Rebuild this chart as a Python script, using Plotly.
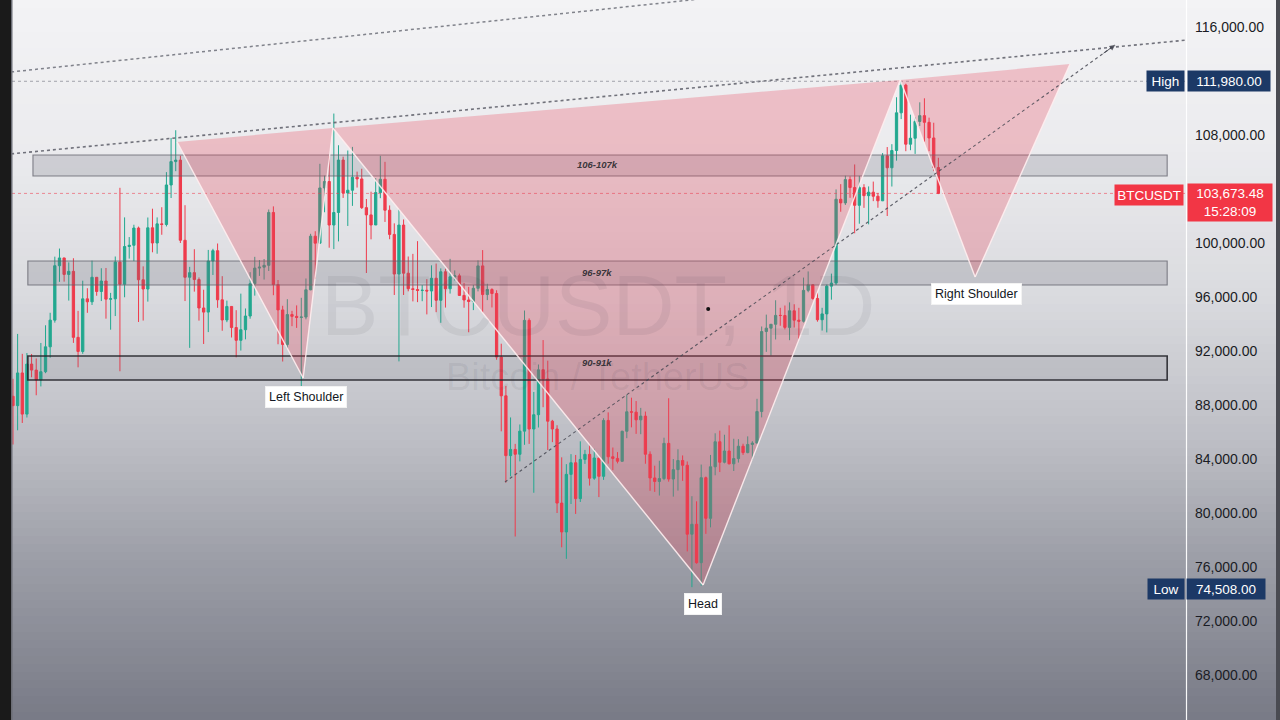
import plotly.graph_objects as go
import pandas as pd

# ---------------- DATA (BTCUSDT daily) ----------------
start_date = "2024-11-12"

opens = [
    # Nov 12-30
    88648, 87952, 90375, 87325, 91032, 90587, 89855, 90465, 92310, 94287,
    98317, 98892, 97672, 97900, 93010, 91965, 95863, 95643, 97460,
    # Dec
    96407, 97185, 95840, 95865, 98587, 96945, 99740, 99831, 101109, 97276,
    96593, 101125, 100000, 101418, 101372, 104298, 106030, 106140, 100204, 97461,
    97805, 97292, 95187, 94881, 98663, 99430, 95792, 94299, 95300, 93738, 92792,
    # Jan
    93576, 94592, 96984, 98141, 98209, 98345, 102264, 96922, 95043, 92484,
    94701, 94566, 94488, 94516, 96534, 100505, 99987, 104078, 104556, 101331,
    102260, 106144, 103706, 103910, 104870, 104746, 102620, 102082, 101336, 103734, 104722,
    # Feb
    102429, 100635, 97700, 101328, 97763, 96613, 96555, 96482, 96500, 96444,
    97391, 95758, 97868, 96608, 97500, 97569, 96118, 95780, 95671, 96644,
    98305, 96181, 96551, 96258, 91552, 88680, 84250, 84708,
    # Mar
    84350, 86064, 94270, 86221, 87281, 90606, 89931, 86801, 86222, 80734,
    78596, 82862, 83723, 81067, 83969, 84344, 82580, 84075, 82718, 86855,
    84167, 84044, 83832, 86054, 87498, 87471, 86900, 87177, 84353, 82597, 82335,
    # Apr
    82548, 85159, 82516, 83213, 83890, 83537, 78430, 79164, 76322, 82616,
    79608, 83423, 85276, 83760, 84592, 83643, 84030, 84947, 84474, 85077,
    85179, 87516, 93442, 93691, 93980, 94638, 94628, 93750, 94978, 94284,
    # May 1-30
    94207, 96492, 96910, 95891, 94315, 94748, 96802, 97032, 103241, 102971,
    104697, 104107, 102791, 104103, 103507, 103763, 103464, 103126, 106455, 105573,
    106850, 109643, 111696, 107318, 107761, 109004, 109435, 108938, 107781, 105589,
]

highs = [
    # Nov 12-30
    89940, 93265, 91790, 91850, 91779, 91449, 92594, 93905, 94831, 98988,
    99588, 98908, 98564, 98871, 94973, 97208, 96650, 98693, 97463,
    # Dec
    98130, 98150, 96305, 99000, 104088, 101898, 100439, 101351, 101215, 98270,
    101888, 102540, 101895, 102650, 105250, 107780, 108353, 106470, 102800, 98233,
    99540, 97448, 96538, 99487, 99569, 99963, 97544, 95733, 95300, 95024, 96250,
    # Jan
    95151, 97839, 98976, 98734, 98813, 102482, 102712, 97259, 95349, 95837,
    94977, 95378, 95940, 97371, 100681, 100873, 105865, 104988, 106422, 109588,
    107240, 106394, 106850, 107120, 105286, 105500, 103260, 103800, 104800, 106457, 106012,
    # Feb
    102783, 101456, 102500, 101745, 99000, 99195, 100137, 96880, 97323, 98345,
    98478, 98119, 98094, 98826, 97970, 97732, 97046, 96753, 96899, 98711,
    99475, 96980, 96650, 96500, 92540, 89414, 87078, 85120,
    # Mar
    86558, 95000, 94416, 88967, 91000, 92810, 91283, 86897, 86500, 84123,
    83617, 84359, 84301, 85309, 84673, 85117, 84756, 84075, 87022, 87454,
    84850, 84513, 86094, 88765, 88542, 88292, 87786, 87515, 84567, 83505, 83870,
    # Apr
    85579, 88500, 83998, 84720, 84266, 83817, 81243, 80867, 83588, 82700,
    84300, 85905, 86100, 85799, 86496, 85500, 85470, 85132, 85677, 85320,
    88460, 93817, 94696, 93888, 95758, 95199, 95369, 95600, 95461, 95199,
    # May 1-30
    97438, 97895, 96943, 96318, 95200, 96920, 97732, 103970, 104361, 104984,
    104938, 105819, 104976, 104356, 104192, 104550, 103708, 106660, 107108, 107320,
    110797, 111980, 111800, 109506, 109300, 110422, 110718, 109284, 108910, 106313,
]

lows = [
    # Nov 12-30
    85072, 86127, 86668, 87073, 90056, 88722, 89376, 90357, 91500, 94100,
    97122, 97136, 95734, 92600, 90791, 91792, 94827, 95407, 96092,
    # Dec
    95700, 94395, 93579, 94588, 90500, 95981, 98844, 98657, 94150, 94256,
    95659, 99312, 99205, 100610, 101227, 103333, 105321, 100000, 95700, 92232,
    96398, 94250, 92520, 93400, 97632, 95200, 93500, 94135, 93000, 91530, 92033,
    # Jan
    92863, 94392, 96100, 97562, 97291, 97925, 96132, 92500, 91220, 92207,
    93840, 93711, 89256, 94346, 96500, 97352, 99950, 102277, 99651, 99550,
    100119, 103339, 101262, 102750, 104106, 102520, 97777, 100272, 101328, 103320, 101560,
    # Feb
    100279, 96150, 91231, 96150, 96421, 95676, 95620, 95688, 94713, 95256,
    94876, 94088, 95217, 96253, 97223, 96101, 95205, 93388, 95029, 96415,
    94871, 95770, 95227, 91350, 86050, 82256, 82717, 78258,
    # Mar
    83824, 85050, 85117, 81500, 86334, 87836, 84667, 85248, 80000, 77459,
    76606, 80667, 79931, 80818, 83639, 82032, 82457, 81180, 82457, 83655,
    83175, 83674, 83794, 85541, 86346, 85862, 85837, 83647, 81644, 81565, 81293,
    # Apr
    82432, 82320, 81211, 81659, 82379, 77154, 74508, 76240, 74620, 78455,
    78936, 82792, 83034, 83678, 83600, 83111, 83736, 84303, 84424, 83950,
    85144, 87084, 91936, 91660, 92855, 93870, 93602, 92800, 93742, 92910,
    # May 1-30
    94111, 96350, 95800, 94171, 93514, 93377, 95800, 96888, 102316, 102818,
    103347, 100719, 101429, 102602, 101383, 103100, 102612, 103105, 102000, 104184,
    106100, 109177, 106800, 106875, 106600, 108670, 107497, 106800, 105322, 103621,
]

closes = [
    # Nov 12-30
    87952, 90375, 87325, 91032, 90586, 89855, 90464, 92310, 94286, 98317,
    98892, 97672, 97900, 93010, 91965, 95863, 95643, 97460, 96407,
    # Dec
    97185, 95840, 95865, 98587, 96945, 99740, 99831, 101109, 97276, 96593,
    101125, 100000, 101418, 101372, 104298, 106029, 106140, 100204, 97461, 97805,
    97292, 95187, 94881, 98663, 99430, 95792, 94299, 95300, 93738, 92792, 93576,
    # Jan
    94591, 96984, 98141, 98209, 98345, 102264, 96922, 95043, 92484, 94701,
    94566, 94488, 94516, 96534, 100505, 99987, 104078, 104556, 101331, 102260,
    106144, 103706, 103910, 104870, 104746, 102620, 102082, 101336, 103734, 104722, 102429,
    # Feb
    100635, 97700, 101328, 97763, 96613, 96555, 96482, 96500, 96444, 97391,
    95758, 97868, 96608, 97500, 97569, 96118, 95780, 95671, 96644, 98305,
    96181, 96551, 96258, 91552, 88680, 84250, 84708, 84350,
    # Mar
    86064, 94270, 86220, 87281, 90606, 89931, 86801, 86222, 80734, 78595,
    82862, 83723, 81067, 83969, 84344, 82580, 84075, 82718, 86855, 84167,
    84044, 83832, 86054, 87498, 87471, 86900, 87177, 84353, 82598, 82334, 82548,
    # Apr
    85159, 82516, 83213, 83889, 83537, 78430, 79164, 76322, 82616, 79608,
    83423, 85276, 83760, 84592, 83643, 84030, 84947, 84474, 85077, 85179,
    87516, 93442, 93691, 93980, 94638, 94628, 93750, 94978, 94284, 94207,
    # May 1-30
    96492, 96910, 95891, 94315, 94748, 96802, 97032, 103241, 102971, 104696,
    104107, 102791, 104103, 103507, 103763, 103464, 103126, 106455, 105573, 106850,
    109643, 111696, 107318, 107761, 109004, 109435, 108938, 107781, 105589, 103673,
]

y_tick_values = [116000, 108000, 100000, 96000, 92000, 88000, 84000, 80000, 76000, 72000, 68000]
high_value = 111980.00
low_value = 74508.00
last_price = 103673.48
countdown = "15:28:09"
symbol = "BTCUSDT"
watermark_title = "BTCUSDT, 1D"
watermark_sub = "Bitcoin / TetherUS"

zone_names = ["106-107k", "96-97k", "90-91k"]
zone_bottoms = [104963, 96889, 89852]
zone_tops = [106519, 98667, 91630]

pattern_names = ["Left Shoulder", "Head", "Right Shoulder"]

# ---------------- helpers ----------------
dates = pd.date_range(start_date, periods=len(closes), freq="D")
t0 = pd.Timestamp(start_date)


def dx(i):
    return (t0 + pd.Timedelta(days=i)).strftime("%Y-%m-%d %H:%M:%S")


def dp(i):
    return dx(i).replace(" ", "_")


PLOT_L, PLOT_R, W, H = 12, 1186, 1280, 720
PW = PLOT_R - PLOT_L


def pxx(px):
    return (px - PLOT_L) / PW


def pxy(py):
    return 1 - py / H


fig = go.Figure()

fig.add_trace(go.Candlestick(
    x=dates, open=opens, high=highs, low=lows, close=closes,
    increasing=dict(line=dict(color="#22a88f", width=1), fillcolor="#22a88f"),
    decreasing=dict(line=dict(color="#ef3b4c", width=1), fillcolor="#ef3b4c"),
    whiskerwidth=0, showlegend=False, hoverinfo="skip",
))

shapes = []

# background gradient bands
stops = [(0, (243, 243, 245)), (150, (235, 235, 238)), (300, (217, 218, 222)),
         (450, (187, 188, 195)), (560, (156, 158, 167)), (720, (120, 122, 134))]


def grad(y):
    for (y0, c0), (y1, c1) in zip(stops[:-1], stops[1:]):
        if y0 <= y <= y1:
            t = (y - y0) / (y1 - y0)
            return tuple(round(a + (b - a) * t) for a, b in zip(c0, c1))
    return stops[-1][1]


band = 8
for yb in range(0, H, band):
    c = grad(yb + band / 2)
    shapes.append(dict(type="rect", xref="paper", yref="paper",
                       x0=pxx(0), x1=pxx(W), y0=pxy(yb + band + 0.5), y1=pxy(yb),
                       fillcolor=f"rgb({c[0]},{c[1]},{c[2]})", line=dict(width=0),
                       layer="below"))

# zones
for i, (b, t) in enumerate(zip(zone_bottoms, zone_tops)):
    x0 = 4.3 if i == 0 else 3.2
    dark = (i == 2)
    shapes.append(dict(type="rect", xref="x", yref="y", x0=dx(x0), x1=dx(248.2),
                       y0=b, y1=t,
                       fillcolor="rgba(105,105,118,0.14)" if dark else "rgba(105,105,118,0.22)",
                       line=dict(color="rgba(35,35,42,0.9)" if dark else "rgba(95,95,105,0.75)",
                                 width=1.6 if dark else 1.1),
                       layer="above"))

# trend lines
shapes.append(dict(type="line", xref="x", yref="y", x0=dx(-0.4), y0=106600, x1=dx(252.6), y1=115040,
                   line=dict(color="rgba(90,92,102,0.85)", width=1.6, dash="dot"), layer="above"))
shapes.append(dict(type="line", xref="x", yref="y", x0=dx(-0.4), y0=112670, x1=dx(252.6), y1=121900,
                   line=dict(color="rgba(100,102,112,0.8)", width=1.5, dash="dot"), layer="above"))

# high line and last price line
shapes.append(dict(type="line", xref="paper", yref="y", x0=0, x1=1, y0=high_value, y1=high_value,
                   line=dict(color="rgba(140,142,152,0.8)", width=1, dash="dot"), layer="above"))
shapes.append(dict(type="line", xref="paper", yref="y", x0=0, x1=1, y0=last_price, y1=last_price,
                   line=dict(color="rgba(239,59,76,0.55)", width=1, dash="dot"), layer="above"))

# pattern triangles
tri_pts = [
    [(35.3, 107480), (68.8, 108520), (62.4, 90000)],
    [(68.8, 108520), (190.8, 112070), (148.4, 74670)],
    [(190.8, 112070), (227.3, 113260), (206.9, 97480)],
]
for pts in tri_pts:
    path = "M {} {} L {} {} L {} {} Z".format(dp(pts[0][0]), pts[0][1], dp(pts[1][0]), pts[1][1],
                                             dp(pts[2][0]), pts[2][1])
    shapes.append(dict(type="path", xref="x", yref="y", path=path,
                       fillcolor="rgba(232,64,84,0.27)", line=dict(width=0), layer="above"))
    for a, b in [(pts[0], pts[2]), (pts[2], pts[1])]:
        shapes.append(dict(type="line", xref="x", yref="y", x0=dx(a[0]), y0=a[1], x1=dx(b[0]), y1=b[1],
                           line=dict(color="rgba(255,238,240,0.9)", width=1.4), layer="above"))

# rising dotted projection line
shapes.append(dict(type="line", xref="x", yref="y", x0=dx(105.8), y0=82296, x1=dx(237), y1=114667,
                   line=dict(color="rgba(70,72,82,0.85)", width=1.1, dash="dot"), layer="above"))

# cursor dot
shapes.append(dict(type="circle", xref="x", yref="y", xsizemode="pixel", ysizemode="pixel",
                   xanchor=dx(149.5), yanchor=95111, x0=-2, x1=2, y0=-2, y1=2,
                   fillcolor="#111", line=dict(width=0), layer="above"))

# frame pieces
shapes.append(dict(type="rect", xref="paper", yref="paper", x0=pxx(0), x1=pxx(11), y0=0, y1=1,
                   fillcolor="#1a1a1a", line=dict(width=0), layer="above"))
shapes.append(dict(type="rect", xref="paper", yref="paper", x0=pxx(11), x1=pxx(12.5), y0=0, y1=1,
                   fillcolor="#6b6d75", line=dict(width=0), layer="above"))
shapes.append(dict(type="line", xref="paper", yref="paper", x0=pxx(1186.5), x1=pxx(1186.5), y0=0, y1=1,
                   line=dict(color="rgba(255,255,255,0.95)", width=1.2), layer="above"))
shapes.append(dict(type="rect", xref="paper", yref="paper", x0=pxx(1276), x1=pxx(1280), y0=0, y1=1,
                   fillcolor="#4a4b52", line=dict(width=0), layer="above"))

annotations = []

# watermark
annotations.append(dict(x=dx(125.8), y=95400, xref="x", yref="y", text=watermark_title, showarrow=False,
                        font=dict(family="Liberation Sans, Arial", size=86, color="rgba(40,40,55,0.07)")))
annotations.append(dict(x=dx(125.8), y=90100, xref="x", yref="y", text=watermark_sub, showarrow=False,
                        font=dict(family="Liberation Sans, Arial", size=38, color="rgba(40,40,55,0.07)")))

# arrow head of projection line
annotations.append(dict(x=dx(237), y=114667, ax=dx(234.2), ay=114667 - 2.8 * 246.7, xref="x", yref="y",
                        axref="x", ayref="y", text="", showarrow=True, arrowhead=2, arrowsize=1.1,
                        arrowwidth=1, arrowcolor="rgba(70,72,82,0.9)"))

# zone labels
zone_label_y = [105780, 97780, 91150]
for name, yv in zip(zone_names, zone_label_y):
    annotations.append(dict(x=dx(125.6), y=yv, xref="x", yref="y", text=f"<i><b>{name}</b></i>",
                            showarrow=False, font=dict(family="Liberation Sans, Arial", size=9.5,
                                                       color="rgba(40,40,45,0.9)")))

# pattern labels
label_pos = [(63.0, 88600), (148.4, 73260), (207.1, 96220)]
for name, (xi, yv) in zip(pattern_names, label_pos):
    annotations.append(dict(x=dx(xi), y=yv, xref="x", yref="y", text=name, showarrow=False,
                            bgcolor="#ffffff", bordercolor="#f2f2f2", borderwidth=1, borderpad=3,
                            font=dict(family="Liberation Sans, Arial", size=12.5, color="#131722")))

# price axis labels
navy = "#1c3966"
red = "#f23645"


def box(px_c, py_c, text, bg, w, h, size=13.5):
    annotations.append(dict(x=pxx(px_c), y=pxy(py_c), xref="paper", yref="paper", text=text,
                            showarrow=False, bgcolor=bg, width=w, height=h, borderpad=1,
                            xanchor="center", yanchor="middle", align="center",
                            font=dict(family="Liberation Sans, Arial", size=size, color="#ffffff")))


box(1165, 81, "High", navy, 35, 18)
box(1228.5, 81, f"{high_value:,.2f}", navy, 80, 18)
box(1149, 195, symbol, red, 66, 18)
box(1229.5, 202.5, f"{last_price:,.2f}<br>{countdown}", red, 82, 35)
box(1165.5, 589, "Low", navy, 34, 18)
box(1226, 589, f"{low_value:,.2f}", navy, 76, 18)

fig.update_layout(
    width=W, height=H,
    margin=dict(l=PLOT_L, r=W - PLOT_R, t=0, b=0),
    paper_bgcolor="rgba(0,0,0,0)", plot_bgcolor="rgba(0,0,0,0)",
    shapes=shapes, annotations=annotations, showlegend=False,
    xaxis=dict(type="date", range=["2024-11-11 19:00", "2025-07-22 06:00"], visible=False,
               rangeslider=dict(visible=False), fixedrange=True),
    yaxis=dict(side="right", range=[64667, 118000], tickvals=y_tick_values,
               ticktext=[f"{v:,.2f}" for v in y_tick_values], showgrid=False, zeroline=False,
               showline=False, ticks="", ticklabelstandoff=8,
               tickfont=dict(family="Liberation Sans, Arial", size=14, color="#1a1c24"),
               fixedrange=True),
)

fig.write_html("out.html", config={"displayModeBar": False},
               post_script="document.body.style.margin='0px';document.body.style.overflow='hidden';")
